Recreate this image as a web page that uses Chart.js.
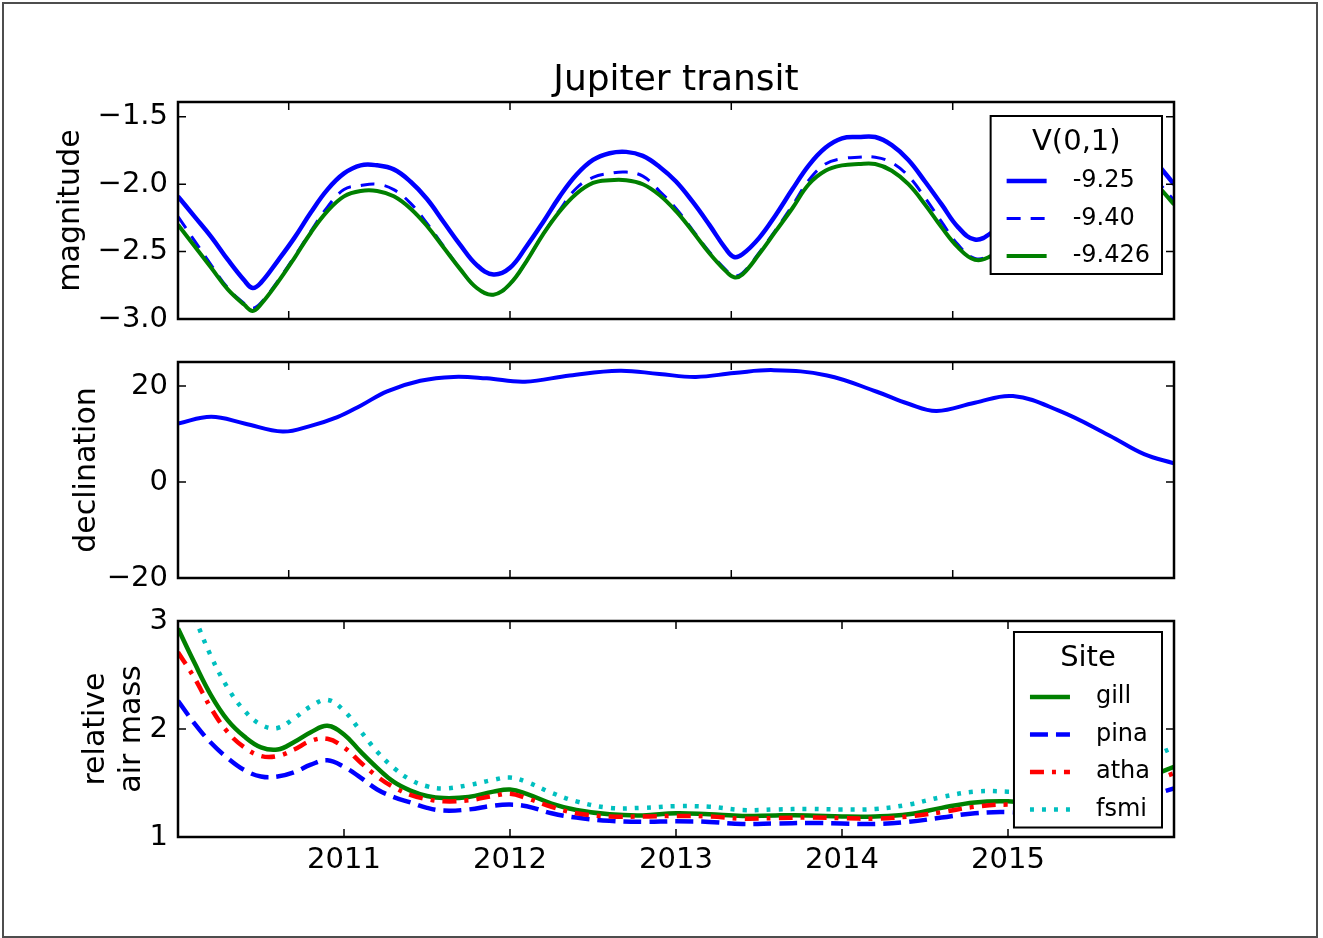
<!DOCTYPE html>
<html>
<head>
<meta charset="utf-8">
<title>Jupiter transit</title>
<script src="https://cdn.jsdelivr.net/npm/chart.js@4.4.1/dist/chart.umd.min.js"></script>
<style>
    html, body { margin: 0; padding: 0; background: #fff; }
    #fig { position: relative; width: 1323px; height: 938px; overflow: hidden; background: #fff; }
    #fig canvas { position: absolute; left: 0; top: 0; }
    #border { position: absolute; left: 2px; top: 2px; width: 1316px; height: 936px;
              box-sizing: border-box; border: 2px solid #4d4d4d; }
</style>
</head>
<body>
<div id="fig">
    <div id="border"></div>
    <canvas id="magChart" width="1323" height="938"></canvas>
    <canvas id="decChart" width="1323" height="938"></canvas>
    <canvas id="airChart" width="1323" height="938"></canvas>
</div>
<script>
// --- magnitude panel ---
const magYears = [2010.0, 2010.1, 2010.2, 2010.3, 2010.4, 2010.45, 2010.5, 2010.6, 2010.7, 2010.8, 2010.9,
    2011.0, 2011.1, 2011.2, 2011.3, 2011.4, 2011.5, 2011.6, 2011.7, 2011.8, 2011.9,
    2012.0, 2012.1, 2012.2, 2012.3, 2012.4, 2012.5, 2012.6, 2012.7, 2012.8, 2012.9,
    2013.0, 2013.1, 2013.2, 2013.3, 2013.35, 2013.4, 2013.5, 2013.6, 2013.7, 2013.8, 2013.9,
    2014.0, 2014.1, 2014.2, 2014.3, 2014.4, 2014.5, 2014.6, 2014.7, 2014.8, 2014.9,
    2015.0, 2015.1, 2015.2, 2015.3, 2015.4, 2015.5, 2015.6, 2015.7, 2015.8, 2015.9, 2016.0];
const mag925 = [-2.09, -2.24, -2.39, -2.56, -2.715, -2.77, -2.73, -2.57, -2.40, -2.21, -2.04,
    -1.92, -1.86, -1.86, -1.89, -1.98, -2.11, -2.28, -2.45, -2.60, -2.67,
    -2.62, -2.46, -2.28, -2.09, -1.93, -1.82, -1.77, -1.76, -1.79, -1.87,
    -1.98, -2.13, -2.30, -2.48, -2.54, -2.52, -2.40, -2.23, -2.04, -1.86, -1.73,
    -1.66, -1.65, -1.65, -1.71, -1.82, -1.98, -2.15, -2.32, -2.41, -2.36,
    -2.23, -2.06, -1.89, -1.75, -1.65, -1.59, -1.58, -1.62, -1.71, -1.85, -2.00];
const mag940 = [-2.24, -2.42, -2.60, -2.77, -2.885, -2.92, -2.88, -2.72, -2.54, -2.35, -2.17,
    -2.04, -2.01, -2.00, -2.04, -2.14, -2.29, -2.46, -2.63, -2.77, -2.82,
    -2.74, -2.57, -2.37, -2.19, -2.03, -1.95, -1.92, -1.91, -1.94, -2.05,
    -2.18, -2.34, -2.50, -2.635, -2.68, -2.66, -2.51, -2.34, -2.16, -1.97, -1.85,
    -1.81, -1.80, -1.80, -1.84, -1.94, -2.10, -2.28, -2.45, -2.55, -2.52,
    -2.39, -2.22, -2.05, -1.91, -1.81, -1.76, -1.75, -1.78, -1.86, -1.98, -2.12];
const mag9426 = [-2.30, -2.46, -2.62, -2.78, -2.895, -2.94, -2.89, -2.73, -2.55, -2.36, -2.20,
    -2.09, -2.05, -2.05, -2.09, -2.18, -2.31, -2.47, -2.63, -2.77, -2.82,
    -2.74, -2.57, -2.37, -2.20, -2.07, -1.99, -1.97, -1.97, -2.00, -2.08,
    -2.20, -2.35, -2.51, -2.645, -2.69, -2.67, -2.52, -2.35, -2.18, -2.00, -1.90,
    -1.86, -1.85, -1.85, -1.90, -2.00, -2.15, -2.32, -2.47, -2.56, -2.53,
    -2.40, -2.24, -2.08, -1.95, -1.86, -1.81, -1.80, -1.83, -1.90, -2.01, -2.15];
const magTicks = [-3.0, -2.5, -2.0, -1.5];

// --- declination panel ---
const decYears = [2010.0, 2010.2, 2010.4, 2010.63, 2010.8, 2010.96, 2011.1, 2011.26, 2011.46, 2011.66,
    2011.86, 2012.09, 2012.36, 2012.66, 2012.9, 2013.12, 2013.35, 2013.59, 2013.91, 2014.21,
    2014.4, 2014.57, 2014.8, 2015.03, 2015.31, 2015.61, 2015.82, 2016.0];
const decValues = [12.2, 13.6, 12.2, 10.5, 11.7, 13.5, 15.9, 18.9, 21.1, 21.9,
    21.6, 20.9, 22.2, 23.2, 22.5, 21.9, 22.7, 23.3, 22.2, 18.8,
    16.3, 14.8, 16.5, 17.9, 14.8, 9.7, 5.8, 3.9];
const decTicks = [-20, 0, 20];

// --- air mass panel ---
const airYears = [2010.0, 2010.1, 2010.2, 2010.3, 2010.4, 2010.5, 2010.6, 2010.7, 2010.8, 2010.9,
    2011.0, 2011.1, 2011.2, 2011.3, 2011.4, 2011.5, 2011.6, 2011.75, 2011.9,
    2012.0, 2012.1, 2012.25, 2012.4, 2012.6, 2012.8, 2013.0, 2013.2, 2013.4, 2013.6, 2013.8,
    2014.0, 2014.2, 2014.4, 2014.6, 2014.8, 2015.0, 2015.2, 2015.4, 2015.6, 2015.8, 2016.0];
const airGill = [2.93, 2.61, 2.31, 2.08, 1.93, 1.83, 1.81, 1.88, 1.97, 2.03,
    1.95, 1.79, 1.64, 1.51, 1.43, 1.38, 1.36, 1.37, 1.42,
    1.44, 1.40, 1.31, 1.25, 1.21, 1.20, 1.22, 1.21, 1.195, 1.20, 1.20,
    1.19, 1.19, 1.21, 1.27, 1.32, 1.33, 1.30, 1.33, 1.42, 1.53, 1.65];
const airPina = [2.26, 2.05, 1.87, 1.73, 1.62, 1.56, 1.56, 1.60, 1.67, 1.71,
    1.65, 1.55, 1.44, 1.37, 1.32, 1.27, 1.245, 1.255, 1.29,
    1.30, 1.285, 1.22, 1.18, 1.15, 1.14, 1.145, 1.14, 1.12, 1.125, 1.13,
    1.125, 1.12, 1.14, 1.18, 1.22, 1.23, 1.21, 1.23, 1.29, 1.36, 1.45];
const airAtha = [2.71, 2.47, 2.19, 1.97, 1.83, 1.75, 1.75, 1.81, 1.89, 1.91,
    1.83, 1.69, 1.56, 1.46, 1.39, 1.35, 1.33, 1.34, 1.38,
    1.40, 1.36, 1.28, 1.22, 1.19, 1.19, 1.195, 1.19, 1.17, 1.175, 1.18,
    1.175, 1.17, 1.19, 1.23, 1.28, 1.30, 1.28, 1.31, 1.38, 1.48, 1.59];
const airFsmi = [3.45, 3.04, 2.67, 2.38, 2.17, 2.04, 2.01, 2.10, 2.21, 2.27,
    2.17, 1.98, 1.79, 1.64, 1.53, 1.47, 1.45, 1.48, 1.53,
    1.55, 1.51, 1.41, 1.33, 1.27, 1.27, 1.285, 1.28, 1.25, 1.255, 1.26,
    1.255, 1.26, 1.30, 1.37, 1.42, 1.42, 1.40, 1.45, 1.56, 1.70, 1.83];
const airTicks = [1, 2, 3];

// x ticks: labelled years on the bottom panel, unlabelled marks on the upper two
const yearTicks = [2011, 2012, 2013, 2014, 2015];
const upperXTicks = [2010.667, 2012.0, 2013.333, 2014.667];

const FONT = "DejaVu Sans";
Chart.defaults.font.family = FONT;
Chart.defaults.color = "#000";

const BLUE = "#0000ff", GREEN = "#008000", RED = "#ff0000", CYAN = "#00bfbf";

function pts(xs, ys) {
    return xs.map((x, i) => ({ x: x, y: ys[i] }));
}

function withMinus(v, digits) {
    return v.toFixed(digits).replace("-", "\u2212");
}

// frame round the plot area plus inward tick marks on all four sides
const framePlugin = {
    id: "frame",
    afterDatasetsDraw(chart, args, opts) {
        const { ctx, chartArea: a, scales } = chart;
        ctx.save();
        ctx.strokeStyle = "#000";
        ctx.lineWidth = 1.5;
        ctx.beginPath();
        opts.xTicks.forEach(v => {
            const px = scales.x.getPixelForValue(v);
            ctx.moveTo(px, a.top); ctx.lineTo(px, a.top + 8);
            ctx.moveTo(px, a.bottom); ctx.lineTo(px, a.bottom - 8);
        });
        opts.yTicks.forEach(v => {
            const py = scales.y.getPixelForValue(v);
            ctx.moveTo(a.left, py); ctx.lineTo(a.left + 8, py);
            ctx.moveTo(a.right, py); ctx.lineTo(a.right - 8, py);
        });
        ctx.stroke();
        ctx.lineWidth = 2.5;
        ctx.strokeRect(a.left, a.top, a.right - a.left, a.bottom - a.top);
        ctx.restore();
    }
};

// matplotlib-like boxed legend in the upper right corner of the plot
const boxLegend = {
    id: "boxLegend",
    afterDraw(chart, args, opts) {
        if (!opts.title) return;
        const { ctx, chartArea: a } = chart;
        const sets = chart.data.datasets;
        ctx.save();
        ctx.font = "24px " + FONT;
        const textW = Math.max(...sets.map(d => ctx.measureText(d.label).width));
        const w = 82 + textW + 12;
        const h = 65 + (sets.length - 1) * 37.5 + 18;
        const left = a.right - 12 - w, top = a.top + (opts.offset || 12);
        ctx.fillStyle = "#fff";
        ctx.fillRect(left, top, w, h);
        ctx.lineWidth = 2;
        ctx.strokeStyle = "#000";
        ctx.strokeRect(left, top, w, h);

        ctx.fillStyle = "#000";
        ctx.textAlign = "center";
        ctx.textBaseline = "middle";
        ctx.font = "29px " + FONT;
        ctx.fillText(opts.title, left + w / 2, top + 26);

        ctx.font = "24px " + FONT;
        ctx.textAlign = "left";
        sets.forEach((d, i) => {
            const y = top + 65 + i * 37.5;
            ctx.strokeStyle = d.borderColor;
            ctx.lineWidth = d.borderWidth;
            ctx.setLineDash(d.borderDash || []);
            ctx.beginPath();
            ctx.moveTo(left + 16, y);
            ctx.lineTo(left + 56, y);
            ctx.stroke();
            ctx.setLineDash([]);
            ctx.fillStyle = "#000";
            ctx.fillText(d.label, left + 82, y);
        });
        ctx.restore();
    }
};

function line(label, xs, ys, color, width, dash, order) {
    return {
        label: label,
        data: pts(xs, ys),
        borderColor: color,
        borderWidth: width,
        borderDash: dash,
        pointRadius: 0,
        fill: false,
        tension: 0.4,
        clip: 0,
        order: order
    };
}

function yScale(min, max, ticks, digits, title, titlePad) {
    return {
        type: "linear",
        min: min,
        max: max,
        afterFit: s => { s.width = 178; },
        afterBuildTicks: s => { s.ticks = ticks.map(v => ({ value: v })); },
        grid: { display: false, drawTicks: false },
        border: { display: false },
        ticks: {
            font: { size: 29 },
            color: "#000",
            padding: 10,
            callback: v => withMinus(v, digits)
        },
        title: {
            display: true,
            text: title,
            color: "#000",
            font: { size: 30 },
            padding: { top: titlePad, bottom: 0 }
        }
    };
}

function hiddenX() {
    return { type: "linear", min: 2010, max: 2016, display: false };
}

function panel(id, datasets, scales, padding, plugins) {
    return new Chart(document.getElementById(id), {
        type: "line",
        data: { datasets: datasets },
        options: {
            responsive: false,
            animation: false,
            devicePixelRatio: 1,
            layout: { padding: padding },
            scales: scales,
            plugins: Object.assign({ legend: { display: false }, tooltip: { enabled: false } }, plugins)
        },
        plugins: [framePlugin, boxLegend]
    });
}

// top: magnitude
panel("magChart", [
    line("-9.25", magYears, mag925, BLUE, 4.5, [], 2),
    line("-9.40", magYears, mag940, BLUE, 3, [14, 10], 1),
    line("-9.426", magYears, mag9426, GREEN, 4, [], 0)
], {
    x: hiddenX(),
    y: yScale(-3.0, -1.39, magTicks, 1, "magnitude", 53)
}, { top: 0, right: 149, bottom: 619, left: 0 }, {
    title: {
        display: true,
        fullSize: false,
        text: "Jupiter transit",
        color: "#000",
        font: { size: 36, weight: "normal" },
        padding: { top: 58.8, bottom: 0 }
    },
    frame: { xTicks: upperXTicks, yTicks: magTicks },
    boxLegend: { title: "V(0,1)", offset: 14 }
});

// middle: declination
panel("decChart", [
    line("declination", decYears, decValues, BLUE, 4, [], 0)
], {
    x: hiddenX(),
    y: yScale(-20, 25, decTicks, 0, "declination", 69)
}, { top: 362, right: 149, bottom: 360, left: 0 }, {
    frame: { xTicks: upperXTicks, yTicks: decTicks },
    boxLegend: { title: "" }
});

// bottom: relative air mass per site
panel("airChart", [
    line("gill", airYears, airGill, GREEN, 4.5, [], 3),
    line("pina", airYears, airPina, BLUE, 4.5, [18, 8], 2),
    line("atha", airYears, airAtha, RED, 4.5, [14, 8, 4, 8], 1),
    line("fsmi", airYears, airFsmi, CYAN, 4.5, [4, 8], 0)
], {
    x: {
        type: "linear",
        min: 2010,
        max: 2016,
        afterBuildTicks: s => { s.ticks = yearTicks.map(v => ({ value: v })); },
        afterFit: s => { s.height = 40; },
        grid: { display: false, drawTicks: false },
        border: { display: false },
        ticks: {
            font: { size: 29 },
            color: "#000",
            padding: 6,
            autoSkip: false,
            maxRotation: 0,
            callback: v => String(v)
        }
    },
    y: yScale(1, 3, airTicks, 0, ["relative", "air mass"], 78)
}, { top: 621, right: 149, bottom: 61, left: 0 }, {
    frame: { xTicks: yearTicks, yTicks: airTicks },
    boxLegend: { title: "Site", offset: 11 }
});
</script>
</body>
</html>
